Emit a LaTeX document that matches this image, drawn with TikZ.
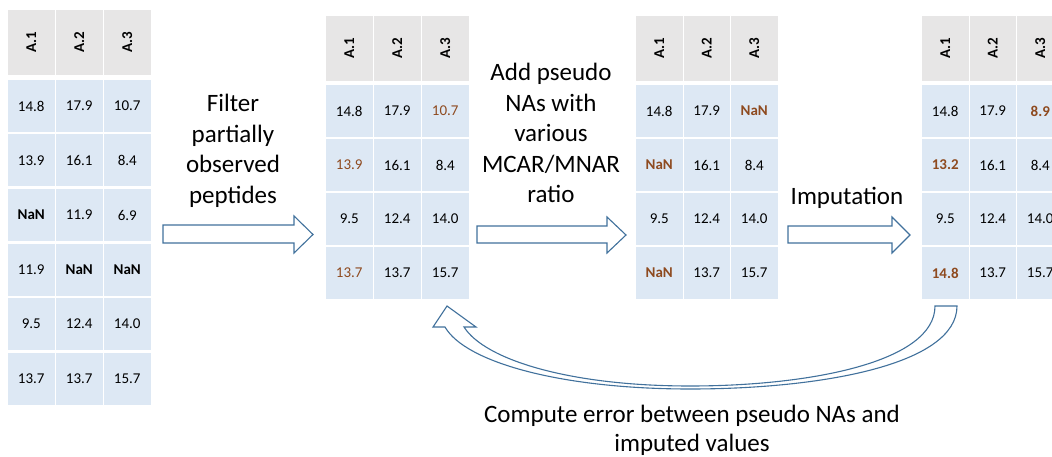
\documentclass[tikz,border=0pt]{standalone}
\usepackage{fontspec}
\setmainfont{Carlito}
\definecolor{hdrgray}{HTML}{E7E6E6}
\definecolor{cellblue}{HTML}{DDE8F4}
\definecolor{nabrown}{HTML}{8E4A1F}
\definecolor{arrowblue}{HTML}{41719C}
\tikzset{
  hdr/.style={fill=hdrgray, rotate=90, minimum width=65pt, minimum height=46.5pt, inner sep=0pt, font=\fontsize{15}{16}\selectfont\bfseries},
  cell/.style={fill=cellblue, minimum width=46.5pt, minimum height=52pt, inner sep=0pt, font=\fontsize{15}{16}\selectfont},
  plain/.style={},
  hl/.style={text=nabrown},
  nab/.style={font=\fontsize{15}{16}\selectfont\bfseries},
  hlb/.style={text=nabrown, font=\fontsize{15}{16}\selectfont\bfseries},
  blockarrow/.style={draw=arrowblue, fill=white, line width=1.1pt, line join=miter},
  steplabel/.style={align=center, font=\fontsize{25}{30.5}\selectfont, inner sep=0pt, anchor=base},
}
\begin{document}
\begin{tikzpicture}[x=1pt,y=-1pt]
\useasboundingbox (0,0) rectangle (1052,457);
\clip (0,0) rectangle (1052,457);
% Table 1
\foreach \c in {1,2,3} \node[hdr] (ta-h\c) at ({31.25+48*(\c-1)},42.5) {A.\c};
\foreach \r/\c/\v/\s in {1/1/14.8/plain,1/2/17.9/plain,1/3/10.7/plain,
  2/1/13.9/plain,2/2/16.1/plain,2/3/8.4/plain,
  3/1/NaN/nab,3/2/11.9/plain,3/3/6.9/plain,
  4/1/11.9/plain,4/2/NaN/nab,4/3/NaN/nab,
  5/1/9.5/plain,5/2/12.4/plain,5/3/14.0/plain,
  6/1/13.7/plain,6/2/13.7/plain,6/3/15.7/plain}
  \node[cell,\s] (ta-\r-\c) at ({31.25+48*(\c-1)},{106+54.5*(\r-1)}) {\v};
% Table 2
\foreach \c in {1,2,3} \node[hdr] (tb-h\c) at ({349.25+48*(\c-1)},48.5) {A.\c};
\foreach \r/\c/\v/\s in {1/1/14.8/plain,1/2/17.9/plain,1/3/10.7/hl,
  2/1/13.9/hl,2/2/16.1/plain,2/3/8.4/plain,
  3/1/9.5/plain,3/2/12.4/plain,3/3/14.0/plain,
  4/1/13.7/hl,4/2/13.7/plain,4/3/15.7/plain}
  \node[cell,\s] (tb-\r-\c) at ({349.25+48*(\c-1)},{111+54*(\r-1)}) {\v};
% Table 3
\foreach \c in {1,2,3} \node[hdr] (tc-h\c) at ({659.25+47.5*(\c-1)},48.5) {A.\c};
\foreach \r/\c/\v/\s in {1/1/14.8/plain,1/2/17.9/plain,1/3/NaN/hlb,
  2/1/NaN/hlb,2/2/16.1/plain,2/3/8.4/plain,
  3/1/9.5/plain,3/2/12.4/plain,3/3/14.0/plain,
  4/1/NaN/hlb,4/2/13.7/plain,4/3/15.7/plain}
  \node[cell,\s] (tc-\r-\c) at ({659.25+47.5*(\c-1)},{111+54*(\r-1)}) {\v};
% Table 4
\foreach \c in {1,2,3} \node[hdr] (td-h\c) at ({945.25+47.5*(\c-1)},48.5) {A.\c};
\foreach \r/\c/\v/\s in {1/1/14.8/plain,1/2/17.9/plain,1/3/8.9/hlb,
  2/1/13.2/hlb,2/2/16.1/plain,2/3/8.4/plain,
  3/1/9.5/plain,3/2/12.4/plain,3/3/14.0/plain,
  4/1/14.8/hlb,4/2/13.7/plain,4/3/15.7/plain}
  \node[cell,\s] (td-\r-\c) at ({945.25+47.5*(\c-1)},{111+54*(\r-1)}) {\v};
% Block arrows
\draw[blockarrow] (163,225) -- (294,225) -- (294,216) -- (313,234.5) -- (294,253) -- (294,243) -- (163,243) -- cycle;
\draw[blockarrow] (477,226) -- (607,226) -- (607,217) -- (626,235) -- (607,253) -- (607,243) -- (477,243) -- cycle;
\draw[blockarrow] (788,226) -- (892,226) -- (892,217) -- (910,235) -- (892,253) -- (892,243) -- (788,243) -- cycle;
% Curved arrow
\draw[blockarrow] (447,306) -- (476,327) -- (464,327)
  .. controls (485,360) and (570,386) .. (690,386)
  .. controls (810,386) and (935,362) .. (935,306) -- (957,306)
  .. controls (957,365) and (820,389) .. (690,389)
  .. controls (560,389) and (465,362) .. (445,327) -- (433,327) -- cycle;
% Labels (anchor base = baseline of the last line)
\node[steplabel] (lbl-filter) at (233,203.5) {Filter\\partially\\observed\\peptides};
\node[steplabel] (lbl-add) at (551,203) {Add pseudo\\NAs with\\various\\MCAR/MNAR\\ratio};
\node[steplabel] (lbl-imp) at (847,205) {Imputation};
\node[steplabel, font=\fontsize{25}{28.5}\selectfont] (lbl-err) at (692,451) {Compute error between pseudo NAs and\\imputed values};
\end{tikzpicture}
\end{document}
